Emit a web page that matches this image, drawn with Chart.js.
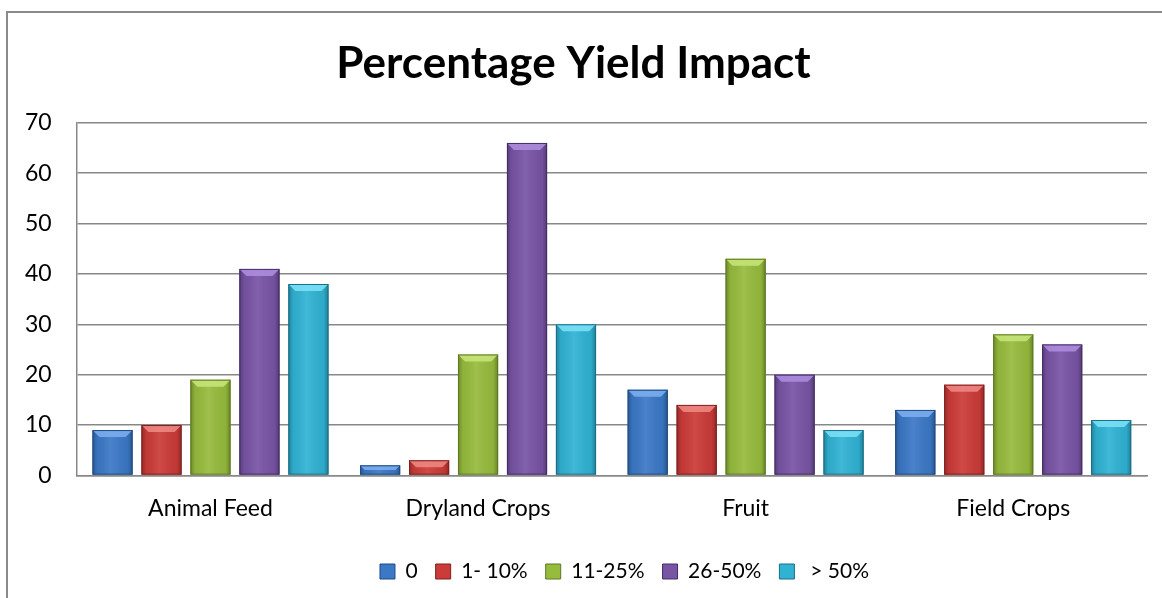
<!DOCTYPE html>
<html>
<head>
<meta charset="utf-8">
<script src="https://cdn.jsdelivr.net/npm/chart.js@4/dist/chart.umd.min.js"></script>
<style>
  html, body { margin: 0; padding: 0; background: #fff; overflow: hidden; }
  #wrap {
    position: absolute; left: 6px; top: 11px; width: 1170px; height: 600px;
    border-left: 2px solid #8a8a8a; border-top: 2px solid #8a8a8a;
  }
  canvas { display: block; }
</style>
</head>
<body>
<div id="wrap"><canvas id="yieldChart" width="1154" height="587"></canvas></div>
<script>
// 카테고리와 시리즈
const categories = ['Animal Feed', 'Dryland Crops', 'Fruit', 'Field Crops'];
const seriesNames = ['0', '1- 10%', '11-25%', '26-50%', ' > 50%'];
const impact0 = [9, 2, 17, 13];
const impact1to10 = [10, 3, 14, 18];
const impact11to25 = [19, 24, 43, 28];
const impact26to50 = [41, 66, 20, 26];
const impactOver50 = [38, 30, 9, 11];
const yTicks = [0, 10, 20, 30, 40, 50, 60, 70];

const baseColors = ['#3b78c6', '#cb3b38', '#96bb3d', '#7854a5', '#30b2d3'];
const darkColors = ['#1f4a85', '#7e1f1d', '#5d7a22', '#432c66', '#1a6f88'];
const lightColors = ['#7fb0ee', '#f08986', '#c9e67a', '#b08ee0', '#7de3f8'];

const allValues = [impact0, impact1to10, impact11to25, impact26to50, impactOver50];
const fontFam = 'Lato, "Open Sans", sans-serif';

// 막대 입체 효과 (라이브러리가 계산한 막대 위치 사용)
const bevelPlugin = {
    id: 'bevel',
    afterLayout(chart) {
        // 범례를 원본처럼 약간 오른쪽으로
        chart.legend.left += 51;
        chart.legend.right += 51;
    },
    afterDatasetsDraw(chart) {
        const c = chart.ctx;
        chart.data.datasets.forEach(function(ds, i) {
            const meta = chart.getDatasetMeta(i);
            meta.data.forEach(function(bar) {
                const w = bar.width;
                const x0 = bar.x - w / 2, x1 = bar.x + w / 2;
                const top = bar.y, bottom = bar.base;
                const h = bottom - top;
                if (h <= 0) return;
                c.save();
                // 좌우 음영
                const g = c.createLinearGradient(x0, 0, x1, 0);
                g.addColorStop(0, 'rgba(0,0,0,0.28)');
                g.addColorStop(0.12, 'rgba(0,0,0,0.05)');
                g.addColorStop(0.45, 'rgba(255,255,255,0.08)');
                g.addColorStop(0.88, 'rgba(0,0,0,0.05)');
                g.addColorStop(1, 'rgba(0,0,0,0.3)');
                c.fillStyle = g;
                c.fillRect(x0, top, w, h);
                // 윗면 경사
                const b = Math.min(7, h / 2);
                c.beginPath();
                c.moveTo(x0, top);
                c.lineTo(x1, top);
                c.lineTo(x1 - b, top + b);
                c.lineTo(x0 + b, top + b);
                c.closePath();
                c.fillStyle = lightColors[i];
                c.globalAlpha = 0.85;
                c.fill();
                c.globalAlpha = 1;
                c.strokeStyle = darkColors[i];
                c.lineWidth = 1;
                c.strokeRect(x0 + 0.5, top + 0.5, w - 1, h - 1);
                c.restore();
            });
        });
    }
};

document.addEventListener('DOMContentLoaded', function() {
    const ctx = document.getElementById('yieldChart');

    new Chart(ctx.getContext('2d'), {
        type: 'bar',
        data: {
            labels: categories,
            datasets: allValues.map(function(vals, i) {
                return {
                    label: seriesNames[i],
                    data: vals,
                    backgroundColor: baseColors[i],
                    borderWidth: 0,
                    categoryPercentage: 0.915,
                    barPercentage: 0.82
                };
            })
        },
        options: {
            responsive: false,
            animation: false,
            layout: { padding: { left: -8, right: 15, top: 0, bottom: 8 } },
            plugins: {
                title: {
                    display: true,
                    text: 'Percentage Yield Impact',
                    color: '#000',
                    font: { family: fontFam, size: 44, weight: 'bold' },
                    padding: { top: 24, bottom: 33 }
                },
                legend: {
                    position: 'bottom',
                    labels: {
                        color: '#000',
                        boxWidth: 15,
                        boxHeight: 15,
                        padding: 18,
                        font: { family: fontFam, size: 21 },
                        generateLabels: function(chart) {
                            return chart.data.datasets.map(function(ds, i) {
                                return {
                                    text: ds.label,
                                    fillStyle: baseColors[i],
                                    strokeStyle: darkColors[i],
                                    lineWidth: 1,
                                    datasetIndex: i
                                };
                            });
                        }
                    }
                },
                tooltip: { enabled: false }
            },
            scales: {
                y: {
                    min: 0,
                    max: 70,
                    afterBuildTicks: function(axis) {
                        axis.ticks = yTicks.map(function(v) { return { value: v }; });
                    },
                    grid: { color: '#888888', lineWidth: 1.5, drawTicks: false },
                    border: { display: true, color: '#888888', width: 1.5 },
                    ticks: {
                        color: '#000',
                        padding: 25,
                        font: { family: fontFam, size: 23 }
                    }
                },
                x: {
                    afterFit: function(axis) {
                        axis.height += 10;
                    },
                    grid: { display: false },
                    border: { display: true, color: '#888888', width: 1.5 },
                    ticks: {
                        color: '#000',
                        padding: 11,
                        font: { family: fontFam, size: 23 }
                    }
                }
            }
        },
        plugins: [bevelPlugin]
    });
});
</script>
</body>
</html>
